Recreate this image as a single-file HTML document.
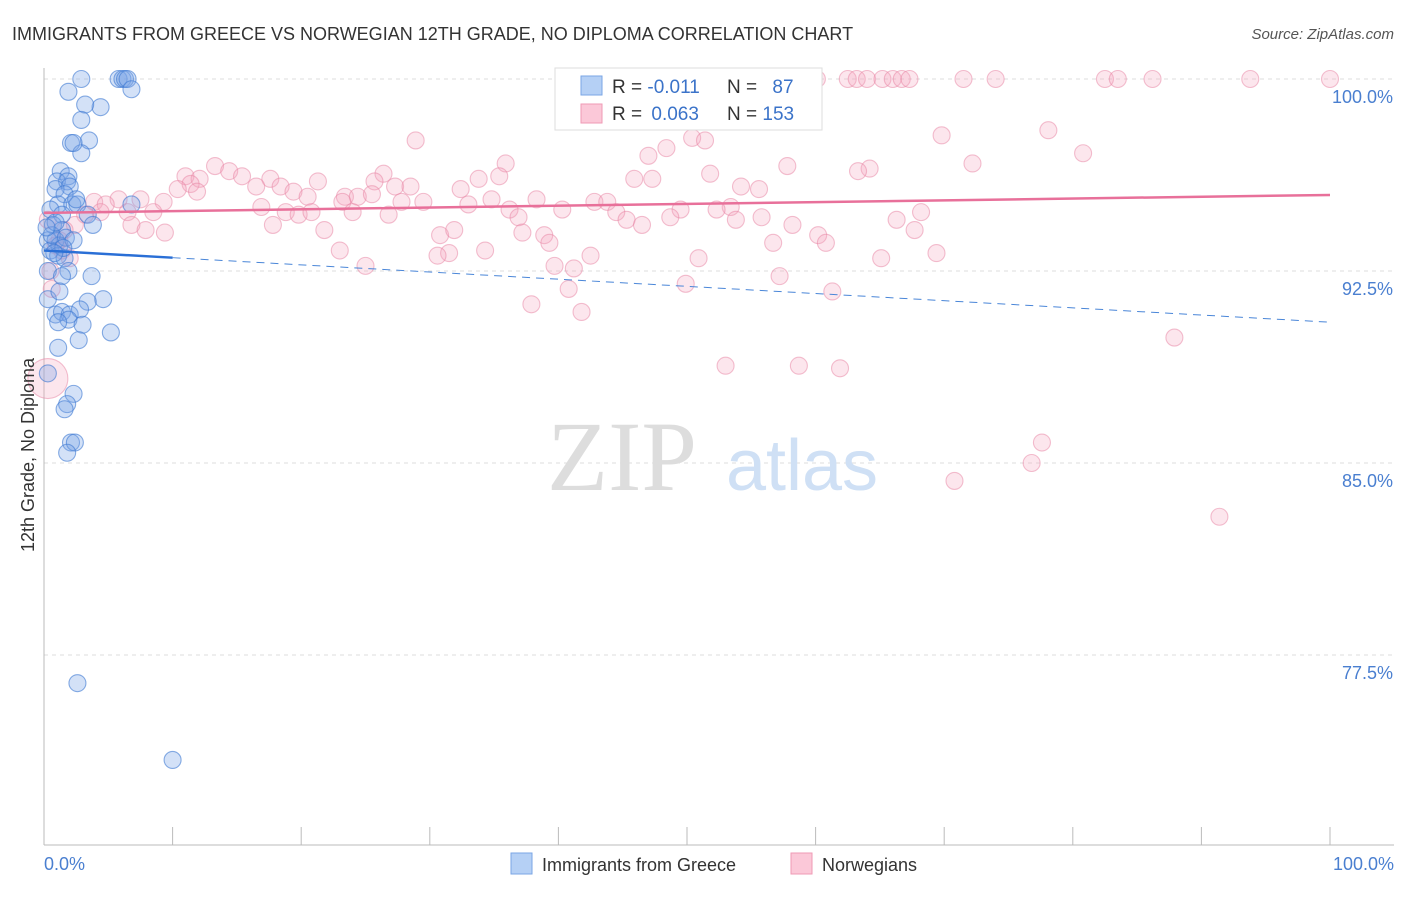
<!DOCTYPE html>
<html><head><meta charset="utf-8"><style>
body{margin:0;background:#fff;font-family:"Liberation Sans",sans-serif;}
svg text{font-family:"Liberation Sans",sans-serif;}
</style></head><body>
<svg id="chart" width="1406" height="892">
<text x="12" y="40" font-size="18" fill="#333">IMMIGRANTS FROM GREECE VS NORWEGIAN 12TH GRADE, NO DIPLOMA CORRELATION CHART</text>
<text x="1394" y="39" font-size="15" fill="#555" font-style="italic" text-anchor="end">Source: ZipAtlas.com</text>
<g id="grid"></g>
<text x="622" y="490" font-size="100" fill="#ddd" style="font-family:'Liberation Serif',serif" text-anchor="middle">ZIP</text>
<text x="802" y="490" font-size="72" fill="#cfe0f5" text-anchor="middle">atlas</text>
<g id="pts"></g>
<g id="lines"></g>
<text transform="translate(34,455) rotate(-90)" font-size="18" fill="#333" text-anchor="middle">12th Grade, No Diploma</text>
<text x="44" y="870" font-size="18" fill="#4a7fd0">0.0%</text>
<text x="1394" y="870" font-size="18" fill="#4a7fd0" text-anchor="end">100.0%</text>
<g>
<rect x="555" y="68" width="267" height="62" fill="#fff" stroke="#ddd"/>
<rect x="581" y="76" width="21" height="19" fill="#b5d0f5" stroke="#7aa6e5"/>
<rect x="581" y="104" width="21" height="19" fill="#fbc8d8" stroke="#ef9ab5"/>
<text x="612" y="93" font-size="19" fill="#333">R = <tspan fill="#3b73c9">-0.011</tspan></text>
<text x="727" y="93" font-size="19" fill="#333">N = <tspan fill="#3b73c9" dx="10">87</tspan></text>
<text x="612" y="120" font-size="19" fill="#333">R = <tspan fill="#3b73c9" dx="4">0.063</tspan></text>
<text x="727" y="120" font-size="19" fill="#333">N = <tspan fill="#3b73c9">153</tspan></text>
</g>
<g>
<rect x="511" y="853" width="21" height="21" fill="#b5d0f5" stroke="#7aa6e5"/>
<text x="542" y="871" font-size="18" fill="#333">Immigrants from Greece</text>
<rect x="791" y="853" width="21" height="21" fill="#fbc8d8" stroke="#ef9ab5"/>
<text x="822" y="871" font-size="18" fill="#333">Norwegians</text>
</g>
</svg>
<script>
const yTicks=[100,92.5,85,77.5];
const yTickLabels=["100.0%","92.5%","85.0%","77.5%"];
const xTicks=[0,10,20,30,40,50,60,70,80,90,100];
const pinkX=[60.1,62.5,63.2,64,65.2,66,66.7,67.3,71.5,74,82.5,83.5,86.2,93.8,100,28.9,69.8,78.1,80.8,72.2,50.4,51.4,48.4,47,35.9,13.3,14.4,57.8,64.2,63.3,51.8,26.4,11,12.1,15.4,17.6,45.9,47.3,35.4,33.8,25.7,21.3,11.4,16.5,18.4,27.3,28.5,32.4,54.2,55.6,10.4,11.9,19.4,20.5,23.4,24.4,25.5,23.2,38.3,5.8,7.5,3.9,4.8,9.3,27.8,29.5,33,34.8,42.8,43.8,53.4,16.9,36.2,40.3,44.5,49.5,52.3,68.2,4.4,6.5,8.5,18.8,19.8,20.8,24,26.8,36.9,45.3,55.8,48.7,53.8,66.3,17.8,6.8,46.5,58.2,7.9,9.4,21.8,30.8,31.9,37.2,38.9,67.7,60.2,39.3,56.7,60.8,23,34.3,31.5,30.6,42.5,69.4,39.7,41.2,25,50.9,65.1,57.2,40.8,49.9,61.3,37.9,41.8,87.9,53,58.7,61.9,77.6,76.8,70.8,91.4,0.3,1.2,1.4,0.5,0.6,3.2,2.4,1.6,0.3,2,0.9];
const pinkY=[100,100,100,100,100,100,100,100,100,100,100,100,100,100,100,97.6,97.8,98,97.1,96.7,97.7,97.6,97.3,97,96.7,96.6,96.4,96.6,96.5,96.4,96.3,96.3,96.2,96.1,96.2,96.1,96.1,96.1,96.2,96.1,96,96,95.9,95.8,95.8,95.8,95.8,95.7,95.8,95.7,95.7,95.6,95.6,95.4,95.4,95.4,95.5,95.2,95.3,95.3,95.3,95.2,95.1,95.2,95.2,95.2,95.1,95.3,95.2,95.2,95,95,94.9,94.9,94.8,94.9,94.9,94.8,94.8,94.8,94.8,94.8,94.7,94.8,94.8,94.7,94.6,94.5,94.6,94.6,94.5,94.5,94.3,94.3,94.3,94.3,94.1,94,94.1,93.9,94.1,94,93.9,94.1,93.9,93.6,93.6,93.6,93.3,93.3,93.2,93.1,93.1,93.2,92.7,92.6,92.7,93,93,92.3,91.8,92,91.7,91.2,90.9,89.9,88.8,88.8,88.7,85.8,85,84.3,82.9,88.3,93.7,93.3,92.5,91.8,94.7,94.3,94.1,94.5,93,93.5];
const blueX=[2.9,5.8,6.1,6.3,6.5,1.9,6.8,4.4,3.2,2.9,3.5,2.1,2.9,2.3,1.3,1.9,1,1.8,2,0.9,1.6,1.1,2.2,2.6,6.8,0.5,1.4,3.4,0.7,1.4,3.8,0.3,0.9,1.2,0.5,1.1,1.6,1.9,0.3,3.7,1.4,0.3,1.2,4.6,3.4,0.9,1.4,2,2.8,1.9,1.1,3,2.7,5.2,1.1,0.3,2.3,1.8,1.6,2.1,2.4,1.8,2.6,10,0.6,0.9,1.7,2.3,0.2,1.5,0.8,2.5];
const blueY=[100,100,100,100,100,99.5,99.6,98.9,99,98.4,97.6,97.5,97.1,97.5,96.4,96.2,96,96,95.8,95.7,95.5,95.1,95.1,95.1,95.1,94.9,94.7,94.7,94.3,94.1,94.3,93.7,93.7,93.5,93.3,93.1,93,92.5,92.5,92.3,92.3,91.4,91.7,91.4,91.3,90.8,90.9,90.8,91,90.6,90.5,90.4,89.8,90.1,89.5,88.5,87.7,87.3,87.1,85.8,85.8,85.4,76.4,73.4,93.9,94.4,93.8,93.7,94.2,93.4,93.2,95.3];
const blueTrend=[93.3,-0.028];
const pinkTrend=[94.77,0.007];
const NS="http://www.w3.org/2000/svg";
const X=v=>44+v*12.86, Y=v=>79+(100-v)*25.6;
function mk(t,a,p){const e=document.createElementNS(NS,t);for(const k in a)e.setAttribute(k,a[k]);p.appendChild(e);return e;}
const grid=document.getElementById('grid');
yTicks.forEach((t,i)=>{
 const l=mk('line',{x1:44,x2:1394,y1:Y(t),y2:Y(t),stroke:'#ddd','stroke-dasharray':'4,4'},grid);
 
 
 const tx=mk('text',{x:1393,y:Y(t)+24,'font-size':18,fill:'#4a7fd0','text-anchor':'end'},grid);
 tx.textContent=yTickLabels[i];
 
 
});
const ax=mk('line',{x1:44,x2:44,y1:68,y2:845,stroke:'#bbb'},grid);


const bx=mk('line',{x1:44,x2:1394,y1:845,y2:845,stroke:'#bbb'},grid);


xTicks.forEach(t=>{const l=mk('line',{x1:X(t),x2:X(t),y1:827,y2:845,stroke:'#bbb'},grid);
 
 });
const pts=document.getElementById('pts');
pinkX.forEach((x,i)=>{const c=mk('circle',{cx:X(x),cy:Y(pinkY[i]),r:(i==pinkX.length-11?20:8.5),fill:'rgba(244,165,192,0.28)',stroke:'rgba(232,130,162,0.5)','stroke-width':1.1},pts);
 
 });
blueX.forEach((x,i)=>{const c=mk('circle',{cx:X(x),cy:Y(blueY[i]),r:8.5,fill:'rgba(120,165,230,0.33)',stroke:'rgba(60,120,210,0.6)','stroke-width':1.1},pts);
 
 });
const lines=document.getElementById('lines');
const b=v=>blueTrend[0]+blueTrend[1]*v, p=v=>pinkTrend[0]+pinkTrend[1]*v;
let l1=mk('line',{x1:X(0),y1:Y(b(0)),x2:X(10),y2:Y(b(10)),stroke:'#2a6fd6','stroke-width':2.5},lines);


let l2=mk('line',{x1:X(10),y1:Y(b(10)),x2:X(100),y2:Y(b(100)),stroke:'#4a86d8','stroke-width':1,'stroke-dasharray':'8,6'},lines);


let l3=mk('line',{x1:X(0),y1:Y(p(0)),x2:X(100),y2:Y(p(100)),stroke:'#e8709a','stroke-width':2.5},lines);


</script>
</body></html>
